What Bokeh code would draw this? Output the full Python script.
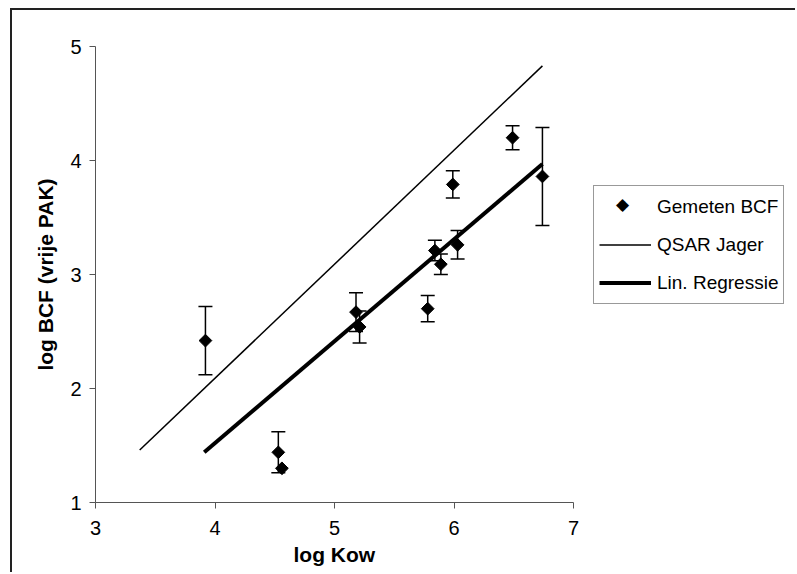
from bokeh.plotting import figure
from bokeh.models import ColumnDataSource, Whisker, TeeHead, Legend, LegendItem, Range1d, Label, Title
from bokeh.embed import file_html
from bokeh.resources import INLINE

# Measured data
log_kow = [3.92, 4.53, 4.56, 5.18, 5.21, 5.78, 5.84, 5.89, 6.03, 5.99, 6.49, 6.74]
log_bcf = [2.42, 1.44, 1.30, 2.67, 2.54, 2.70, 3.21, 3.09, 3.26, 3.79, 4.20, 3.86]
bcf_err = [0.30, 0.18, 0.00, 0.17, 0.14, 0.115, 0.09, 0.09, 0.125, 0.12, 0.105, 0.43]

qsar_x = [3.37, 6.74]
qsar_y = [1.46, 4.83]

reg_x = [3.91, 6.74]
reg_y = [1.44, 3.97]

x_ticks = [3, 4, 5, 6, 7]
y_ticks = [1, 2, 3, 4, 5]

FONT = "Liberation Sans"

W, H = 785, 564
BL, BR, BT, BB = 83, 2, 36, 72
AXIS_W = 478  # pixel width of the 3..7 axis
x_end = 3 + 4 * (W - BL - BR) / AXIS_W  # frame extends right so the legend is not clipped

p = figure(width=W, height=H, x_range=Range1d(3, x_end), y_range=Range1d(1, 5),
           output_backend="svg", toolbar_location=None,
           min_border_left=BL, min_border_right=BR, min_border_top=BT, min_border_bottom=BB)
p.styles = {"position": "absolute", "left": "10px", "top": "8px",
            "border-left": "2px solid #222", "border-top": "2px solid #222"}

p.xgrid.visible = False
p.ygrid.visible = False
p.outline_line_color = None
p.background_fill_color = "white"
p.border_fill_color = "white"

for ax, ticks in ((p.xaxis, x_ticks), (p.yaxis, y_ticks)):
    ax.ticker = ticks
    ax.axis_line_color = "#555555"
    ax.axis_line_width = 1
    ax.major_tick_line_color = "#555555"
    ax.major_tick_out = 6
    ax.major_tick_in = 0
    ax.minor_tick_line_color = None
    ax.major_label_text_font = FONT
    ax.major_label_text_font_size = "20px"
    ax.major_label_text_color = "black"
    ax.axis_label_text_font = FONT
    ax.axis_label_text_font_size = "21px"
    ax.axis_label_text_font_style = "bold"
    ax.axis_label_text_color = "black"

p.xaxis.bounds = (3, 7)
p.xaxis.major_label_standoff = 12
p.yaxis.axis_label = "log BCF (vrije PAK)"
p.yaxis.major_label_standoff = 8
p.yaxis.axis_label_standoff = 10

# x-axis title centred under the 3..7 axis (the frame extends further right)
xt = Title(text="log Kow", align="left", offset=198, standoff=7,
           text_font=FONT, text_font_size="21px", text_font_style="bold", text_color="black")
p.add_layout(xt, "below")

# error bars
idx = [i for i, e in enumerate(bcf_err) if e > 0]
err_src = ColumnDataSource(dict(
    x=[log_kow[i] for i in idx],
    lower=[log_bcf[i] - bcf_err[i] for i in idx],
    upper=[log_bcf[i] + bcf_err[i] for i in idx],
))
wk = Whisker(source=err_src, base="x", lower="lower", upper="upper", dimension="height",
             line_color="black", line_width=1.5,
             upper_head=TeeHead(size=14, line_color="black", line_width=1.5),
             lower_head=TeeHead(size=14, line_color="black", line_width=1.5))
p.add_layout(wk)

r_q = p.line(qsar_x, qsar_y, line_color="black", line_width=1.5)
r_r = p.line(reg_x, reg_y, line_color="black", line_width=4)

src = ColumnDataSource(dict(x=log_kow, y=log_bcf))
r_s = p.scatter("x", "y", source=src, marker="square", angle=0.785398, size=9,
                fill_color="black", line_color="black")

# invisible stand-in so the legend row keeps its place; the diamond is drawn as a label
r_leg = p.scatter(x=[], y=[], marker="square", size=1, fill_alpha=0, line_alpha=0)

LEG_X, LEG_Y = 498, 198
legend = Legend(items=[
    LegendItem(label="Gemeten BCF", renderers=[r_leg]),
    LegendItem(label="QSAR Jager", renderers=[r_q]),
    LegendItem(label="Lin. Regressie", renderers=[r_r]),
], location=(LEG_X, LEG_Y))
legend.label_text_font = FONT
legend.label_text_font_size = "19px"
legend.label_text_color = "black"
legend.border_line_color = "#333333"
legend.border_line_width = 1
legend.background_fill_alpha = 0
legend.glyph_width = 52
legend.glyph_height = 31
legend.label_standoff = 6
legend.spacing = 7
legend.padding = 5
legend.margin = 0
p.add_layout(legend, "center")

dia = Label(x=LEG_X + 29, y=LEG_Y + 101, x_units="screen", y_units="screen",
            text="\u25c6", text_font="DejaVu Sans", text_font_size="17px",
            text_align="center", text_baseline="middle", text_color="black")
dia.level = "overlay"
p.add_layout(dia)

open("out.html", "w").write(file_html(p, INLINE))
